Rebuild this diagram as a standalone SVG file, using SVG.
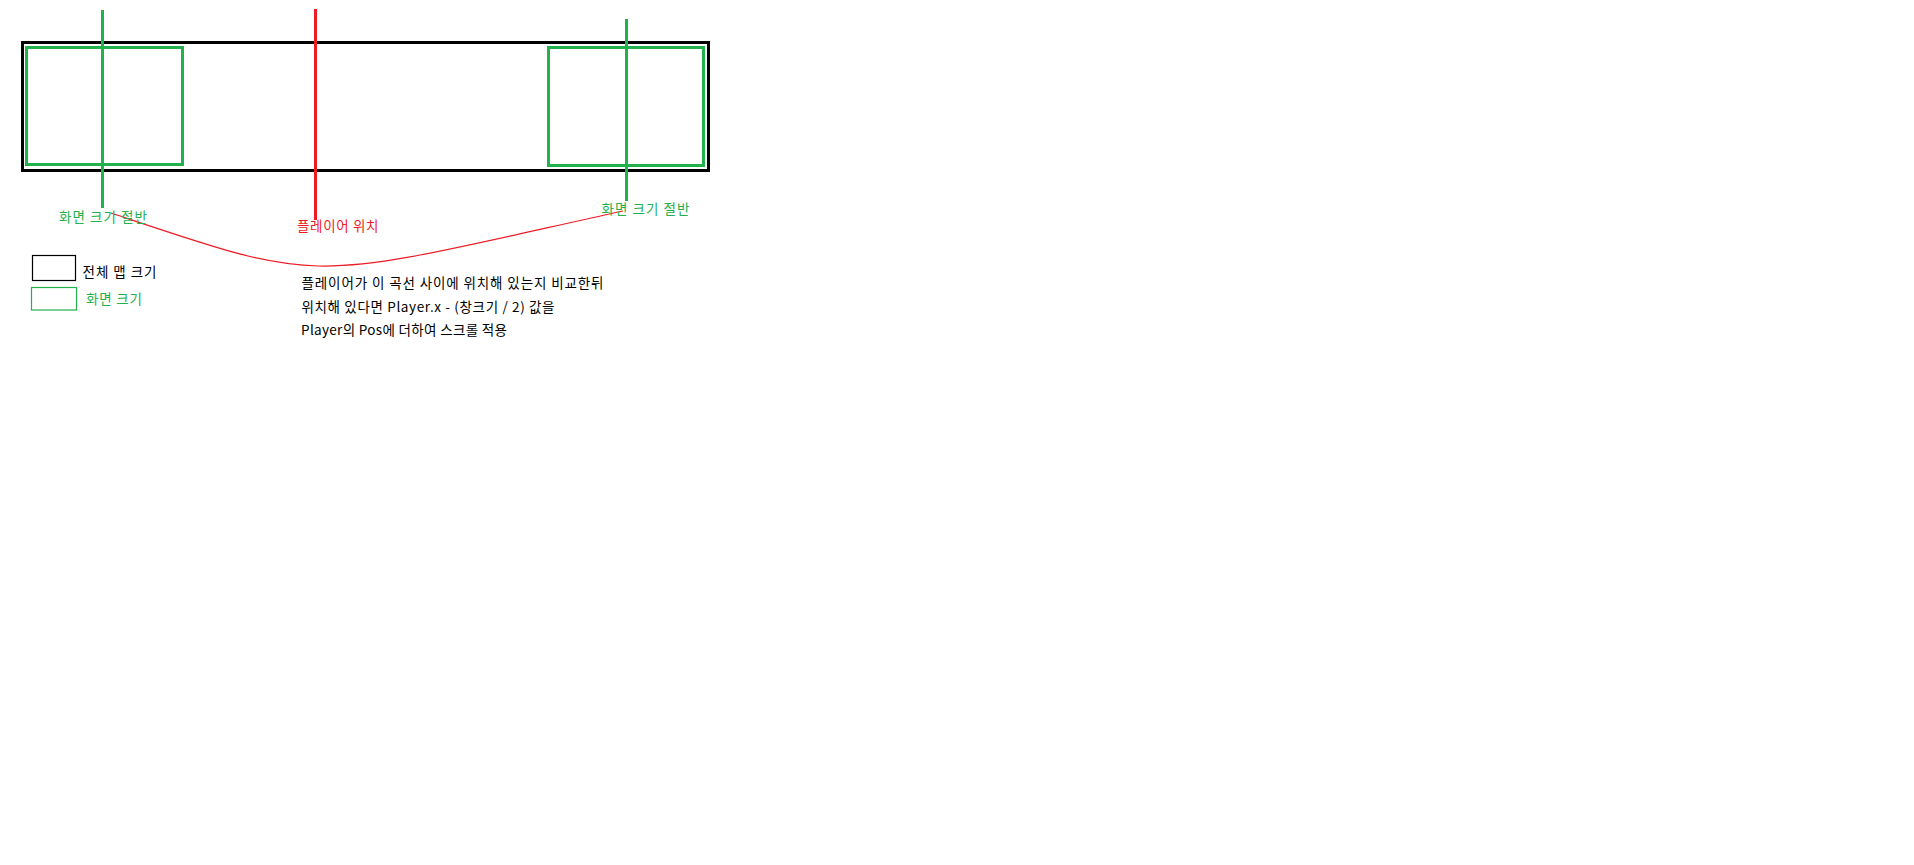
<svg xmlns="http://www.w3.org/2000/svg" width="1914" height="865" viewBox="0 0 1914 865">
<style>
  text { font-family: "Noto Sans CJK KR", "Noto Sans", sans-serif; font-size: 13.5px; }
  .g { fill: #22B14C; }
  .r { fill: #ED1C24; }
  .k { fill: #000000; }
  .gs { fill: none; stroke: #22B14C; stroke-width: 3; }
  .ks { fill: none; stroke: #000000; stroke-width: 3; }
</style>
<rect x="0" y="0" width="1914" height="865" fill="#ffffff"/>
<g id="map">
  <rect class="ks" x="22.5" y="42.5" width="686" height="128"/>
</g>
<g id="screen-left">
  <rect class="gs" x="26.5" y="47.5" width="156" height="117"/>
</g>
<g id="screen-right">
  <rect class="gs" x="548.5" y="47.5" width="155" height="118"/>
</g>
<g id="connectors">
  <line x1="102.5" y1="10" x2="102.5" y2="208" stroke="#22B14C" stroke-width="3"/>
  <line x1="626.5" y1="19" x2="626.5" y2="201" stroke="#22B14C" stroke-width="3"/>
  <line x1="315.5" y1="9" x2="315.5" y2="220" stroke="#ED1C24" stroke-width="3"/>
  <path d="M111,213 C331,286.7 303,281.4 623,211" fill="none" stroke="#ED1C24" stroke-width="1.2"/>
</g>
<g id="label-left">
  <text class="g" x="59" y="221.5" textLength="88" lengthAdjust="spacing">화면 크기 절반</text>
</g>
<g id="label-player">
  <text class="r" x="297" y="230.5" textLength="81.5" lengthAdjust="spacing">플레이어 위치</text>
</g>
<g id="label-right">
  <text class="g" x="601.5" y="214" textLength="88" lengthAdjust="spacing">화면 크기 절반</text>
</g>
<g id="legend-map">
  <rect x="32.5" y="255.5" width="43" height="25" fill="none" stroke="#000000" stroke-width="1.2"/>
  <text class="k" x="82.5" y="277" textLength="74" lengthAdjust="spacing">전체 맵 크기</text>
</g>
<g id="legend-screen">
  <rect x="31.5" y="287.5" width="45" height="22.5" fill="none" stroke="#22B14C" stroke-width="1.2"/>
  <text class="g" x="86" y="304" textLength="56" lengthAdjust="spacing">화면 크기</text>
</g>
<g id="note">
  <text class="k" x="301.5" y="288" textLength="302" lengthAdjust="spacing">플레이어가 이 곡선 사이에 위치해 있는지 비교한뒤</text>
  <text class="k" x="301.5" y="311.5" textLength="253" lengthAdjust="spacing">위치해 있다면 Player.x - (창크기 / 2) 값을</text>
  <text class="k" x="301" y="335" textLength="206" lengthAdjust="spacing">Player의 Pos에 더하여 스크롤 적용</text>
</g>
</svg>
